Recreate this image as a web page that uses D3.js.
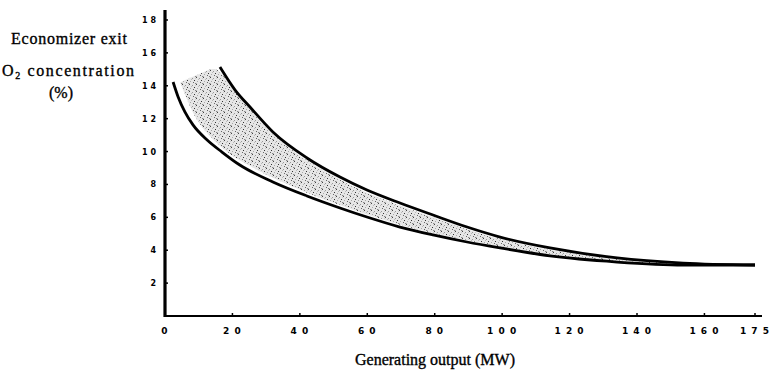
<!DOCTYPE html>
<html><head><meta charset="utf-8">
<script src="https://cdn.jsdelivr.net/npm/d3@7"></script>
<style>body{margin:0;background:#fff}svg{display:block}</style>
</head><body>
<svg id="c" width="774" height="370"></svg>
<script>
// ---- data ----
const xTicks = [0,20,40,60,80,100,120,140,160,175];
const yTicks = [2,4,6,8,10,12,14,16,18];
const lowerX = [2.4,3.9,5.9,8.3,12.5,16.9,22.2,32.0,42.1,51.9,59.9,69.7,79.5,89.6,99.4,114.2,134.1,153.7,175];
const lowerY = [14.23,13.32,12.41,11.62,10.70,9.97,9.18,8.15,7.30,6.57,6.02,5.41,4.93,4.50,4.14,3.65,3.28,3.10,3.10];
const upperX = [16.3,20.8,25.2,32.0,42.1,51.9,59.9,69.7,79.5,89.6,99.4,114.2,134.1,153.7,175];
const upperY = [15.14,13.74,12.71,11.19,9.61,8.45,7.66,6.87,6.14,5.41,4.80,4.14,3.53,3.22,3.10];
const bandTopX = [4.5,10,15,20.8,25.2,32.0,42.1,51.9,59.9,69.7,79.5,89.6,99.4,114.2,134.1,153.7,170];
const bandTopY = [14.2,14.7,15.0,13.6,12.55,11.05,9.45,8.3,7.5,6.72,6.0,5.28,4.68,4.03,3.45,3.17,3.12];
const bandBotX = [4.5,6.5,8.5,11,15,20,25,32,42.1,51.9,59.9,69.7,79.5,89.6,99.4,114.2,134.1,153.7,170];
const bandBotY = [14.2,13.2,12.3,11.5,10.6,9.75,9.15,8.4,7.5,6.75,6.17,5.55,5.05,4.6,4.23,3.73,3.33,3.14,3.12];

(function(){
const svg = d3.select("#c");
const x = d3.scaleLinear().domain([0,175]).range([165,755]);
const y = d3.scaleLinear().domain([0,18]).range([316,20]);

// stipple pattern
const defs = svg.append("defs");
const pat = defs.append("pattern").attr("id","stip").attr("patternUnits","userSpaceOnUse")
  .attr("width",7).attr("height",7);
pat.append("rect").attr("width",7).attr("height",7).attr("fill","#e6e6e6");
[[0,0,"#444"],[3,1,"#999"],[5,3,"#333"],[1,4,"#aaa"],[4,5,"#666"],[2,2,"#bbb"],[6,6,"#888"],[6,1,"#ccc"],[0,6,"#bbb"]]
  .forEach(d=>pat.append("rect").attr("x",d[0]).attr("y",d[1]).attr("width",1).attr("height",1).attr("fill",d[2]));

// band
const bandTop = bandTopX.map((v,i)=>[x(v),y(bandTopY[i])]);
const bandBot = bandBotX.map((v,i)=>[x(v),y(bandBotY[i])]);
const cr = d3.line().curve(d3.curveCatmullRom);
const topPath = cr(bandTop);
const botPath = cr(bandBot.slice().reverse());
svg.append("path").attr("d", topPath + "L" + botPath.slice(1) + "Z")
  .attr("fill","url(#stip)").attr("stroke","none");

// curves
const mono = d3.line().curve(d3.curveMonotoneX);
svg.append("path").attr("d", mono(lowerX.map((v,i)=>[x(v),y(lowerY[i])])))
  .attr("fill","none").attr("stroke","#000").attr("stroke-width",2.8);
svg.append("path").attr("d", mono(upperX.map((v,i)=>[x(v),y(upperY[i])])))
  .attr("fill","none").attr("stroke","#000").attr("stroke-width",2.8);

// axes
svg.append("line").attr("x1",x(0)).attr("x2",x(0)).attr("y1",10).attr("y2",y(0)+1)
  .attr("stroke","#000").attr("stroke-width",3.2);
svg.append("line").attr("x1",x(0)-1).attr("x2",762).attr("y1",y(0)).attr("y2",y(0))
  .attr("stroke","#000").attr("stroke-width",2);

const tf = "'DejaVu Sans', sans-serif";
svg.selectAll(".yt").data(yTicks).enter().append("line")
  .attr("x1",x(0)).attr("x2",x(0)+3).attr("y1",d=>y(d)).attr("y2",d=>y(d))
  .attr("stroke","#000").attr("stroke-width",1.5);
svg.selectAll(".yl").data(yTicks).enter().append("text")
  .attr("x",156).attr("y",d=>y(d)+3).attr("text-anchor","end")
  .attr("font-family",tf).attr("font-weight","bold").attr("font-size",8)
  .text(d=>String(d).split("").join(" "));
svg.selectAll(".xt").data(xTicks.slice(1)).enter().append("line")
  .attr("x1",d=>x(d)).attr("x2",d=>x(d)).attr("y1",y(0)).attr("y2",y(0)-3)
  .attr("stroke","#000").attr("stroke-width",1.5);
svg.selectAll(".xl").data(xTicks).enter().append("text")
  .attr("x",d=>x(d)).attr("y",334).attr("text-anchor","middle")
  .attr("font-family",tf).attr("font-weight","bold").attr("font-size",9)
  .attr("letter-spacing",1)
  .text(d=>String(d).split("").join(" "));

// titles
const sf = "'Liberation Serif', serif";
const title = (sel)=>sel.attr("font-family",sf).attr("font-size",16)
  .attr("stroke","#000").attr("stroke-width",0.35);
title(svg.append("text").attr("x",435).attr("y",365).attr("text-anchor","middle"))
  .text("Generating output (MW)");
title(svg.append("text").attr("x",69).attr("y",44).attr("text-anchor","middle"))
  .attr("textLength",116).attr("lengthAdjust","spacing").text("Economizer exit");
const t2 = title(svg.append("text").attr("x",68).attr("y",76).attr("text-anchor","middle"))
  .attr("textLength",132).attr("lengthAdjust","spacing");
t2.append("tspan").text("O");
t2.append("tspan").attr("font-size",10).attr("dy",3).text("2");
t2.append("tspan").attr("dy",-3).text(" concentration");
title(svg.append("text").attr("x",61).attr("y",98).attr("text-anchor","middle"))
  .text("(%)");
})();
</script>
</body></html>
